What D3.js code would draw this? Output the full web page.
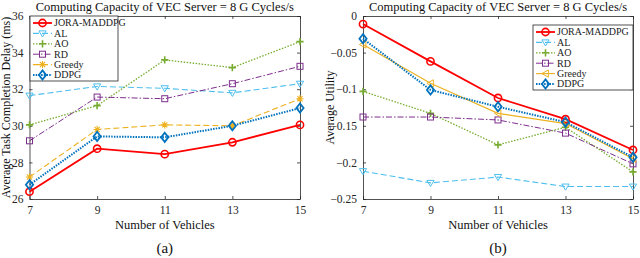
<!DOCTYPE html>
<html>
<head>
<meta charset="utf-8">
<script src="https://cdn.jsdelivr.net/npm/d3@7"></script>
<style>
  body { margin: 0; background: #fff; }
  svg, svg text { font-family: "Liberation Serif", "Times New Roman", Times, serif; }
</style>
</head>
<body>
<div id="chart"></div>
<script>
// Two panels: delay (a) and utility (b) vs number of vehicles

const vehicles = [7, 9, 11, 13, 15];
const seriesNames = ["JORA-MADDPG", "AL", "AO", "RD", "Greedy", "DDPG"];

// panel (a) - average task completion delay (ms)
const delayJora   = [26.4, 28.75, 28.45, 29.1, 30.05];
const delayAL     = [31.65, 32.15, 32.05, 31.8, 32.3];
const delayAO     = [30.05, 31.1, 33.6, 33.18, 34.6];
const delayRD     = [29.18, 31.57, 31.48, 32.3, 33.25];
const delayGreedy = [27.2, 29.8, 30.05, 30.0, 31.48];
const delayDDPG   = [26.78, 29.42, 29.37, 30.0, 30.97];

// panel (b) - average utility
const utilJora   = [-0.011, -0.062, -0.112, -0.141, -0.183];
const utilAL     = [-0.212, -0.228, -0.22, -0.233, -0.233];
const utilAO     = [-0.103, -0.133, -0.176, -0.152, -0.213];
const utilRD     = [-0.138, -0.138, -0.142, -0.16, -0.202];
const utilGreedy = [-0.039, -0.092, -0.133, -0.147, -0.195];
const utilDDPG   = [-0.031, -0.101, -0.124, -0.145, -0.193];

const delayTicks = [26, 28, 30, 32, 34, 36];
const utilTicks = [-0.25, -0.2, -0.15, -0.1, -0.05, 0];

const W = 640, H = 258;
const axisColor = "#262626";
const FONT = "Liberation Serif, Times New Roman, serif";

// look of each series (color, marker, dash, width)
const styleA = {
  "JORA-MADDPG": { c: "#FF0000", m: "circle", dash: null, w: 1.8 },
  "AL":          { c: "#4DBEEE", m: "tri-down", dash: "6,3", w: 1.1 },
  "AO":          { c: "#77AC30", m: "plus", dash: "1.5,1.5", w: 1.3 },
  "RD":          { c: "#7E2F8E", m: "square", dash: "6,2,1.5,2", w: 1 },
  "Greedy":      { c: "#EDB120", m: "star", dash: "6,3", w: 1.1 },
  "DDPG":        { c: "#0072BD", m: "diamond", dash: "1.5,1.2", w: 2 }
};
const styleB = Object.assign({}, styleA, {
  "Greedy": { c: "#EDB120", m: "tri-left", dash: null, w: 1.1 }
});

const svg = d3.select("#chart").append("svg").attr("width", W).attr("height", H)
  .attr("font-family", FONT);

function marker(sel, kind, color) {
  const r = 3.6;
  if (kind === "circle") {
    sel.append("circle").attr("r", r).attr("fill", "none").attr("stroke", color).attr("stroke-width", 1.6);
  } else if (kind === "tri-down") {
    sel.append("path").attr("d", `M${-r},${-r * 0.7}L${r},${-r * 0.7}L0,${r}Z`)
      .attr("fill", "none").attr("stroke", color).attr("stroke-width", 1);
  } else if (kind === "tri-left") {
    sel.append("path").attr("d", `M${r * 0.8},${-r}L${r * 0.8},${r}L${-r},0Z`)
      .attr("fill", "none").attr("stroke", color).attr("stroke-width", 1);
  } else if (kind === "plus") {
    sel.append("path").attr("d", `M${-r},0H${r}M0,${-r}V${r}`)
      .attr("fill", "none").attr("stroke", color).attr("stroke-width", 1.6);
  } else if (kind === "square") {
    sel.append("rect").attr("x", -3).attr("y", -3).attr("width", 6).attr("height", 6)
      .attr("fill", "none").attr("stroke", color).attr("stroke-width", 1);
  } else if (kind === "star") {
    const a = r * 0.72;
    sel.append("path").attr("d", `M${-r},0H${r}M0,${-r}V${r}M${-a},${-a}L${a},${a}M${-a},${a}L${a},${-a}`)
      .attr("fill", "none").attr("stroke", color).attr("stroke-width", 1.1);
  } else if (kind === "diamond") {
    sel.append("path").attr("d", `M0,${-r - 1}L${r},0L0,${r + 1}L${-r},0Z`)
      .attr("fill", "none").attr("stroke", color).attr("stroke-width", 1.8);
  }
}

function drawPanel(opt) {
  const { left, right, top, bottom, yDomain, yTicks, yFmt, data, styles, yLabel, yLabelX, tag, legend } = opt;
  const x = d3.scaleLinear().domain([7, 15]).range([left, right]);
  const y = d3.scaleLinear().domain(yDomain).range([bottom, top]);
  const g = svg.append("g");

  // inward ticks on all four sides
  const tl = 3;
  g.append("g").attr("transform", `translate(0,${bottom})`)
    .call(d3.axisBottom(x).tickValues(vehicles).tickSizeInner(-tl).tickSizeOuter(0).tickPadding(7));
  g.append("g").attr("transform", `translate(0,${top})`)
    .call(d3.axisTop(x).tickValues(vehicles).tickSizeInner(-tl).tickSizeOuter(0).tickFormat(""));
  g.append("g").attr("transform", `translate(${left},0)`)
    .call(d3.axisLeft(y).tickValues(yTicks).tickSizeInner(-tl).tickSizeOuter(0).tickPadding(6).tickFormat(yFmt));
  g.append("g").attr("transform", `translate(${right},0)`)
    .call(d3.axisRight(y).tickValues(yTicks).tickSizeInner(-tl).tickSizeOuter(0).tickFormat(""));
  g.selectAll("g").attr("font-family", FONT).attr("font-size", 11.5);
  g.selectAll(".domain").attr("stroke", axisColor).attr("stroke-width", 0.8);
  g.selectAll(".tick line").attr("stroke", axisColor).attr("stroke-width", 0.8);
  g.selectAll(".tick text").attr("fill", axisColor);

  // series
  const line = d3.line().x((d, i) => x(vehicles[i])).y(d => y(d));
  seriesNames.forEach((name, k) => {
    const s = styles[name];
    g.append("path").datum(data[k]).attr("d", line)
      .attr("fill", "none").attr("stroke", s.c).attr("stroke-width", s.w)
      .attr("stroke-dasharray", s.dash);
  });
  seriesNames.forEach((name, k) => {
    const s = styles[name];
    data[k].forEach((v, i) => {
      const mg = g.append("g").attr("transform", `translate(${x(vehicles[i])},${y(v)})`);
      marker(mg, s.m, s.c);
    });
  });

  // title and labels
  svg.append("text").attr("x", (left + right) / 2).attr("y", 11).attr("text-anchor", "middle")
    .attr("font-size", 12.5).attr("fill", "#111")
    .text("Computing Capacity of VEC Server = 8 G Cycles/s");
  svg.append("text").attr("x", (left + right) / 2).attr("y", 229).attr("text-anchor", "middle")
    .attr("font-size", 12.5).attr("fill", "#111").text("Number of Vehicles");
  svg.append("text").attr("transform", `translate(${yLabelX},${(top + bottom) / 2}) rotate(-90)`)
    .attr("text-anchor", "middle").attr("font-size", 12).attr("fill", "#111").text(yLabel);
  svg.append("text").attr("x", (left + right) / 2).attr("y", 253).attr("text-anchor", "middle")
    .attr("font-size", 15).attr("fill", "#111").text(tag);

  // legend
  const lg = svg.append("g").attr("transform", `translate(${legend.x},${legend.y})`);
  lg.append("rect").attr("width", legend.w).attr("height", 65)
    .attr("fill", "#fff").attr("stroke", axisColor).attr("stroke-width", 0.8);
  seriesNames.forEach((name, k) => {
    const s = styles[name];
    const ry = 7 + k * 10.4;
    lg.append("line").attr("x1", 3).attr("x2", 22).attr("y1", ry).attr("y2", ry)
      .attr("stroke", s.c).attr("stroke-width", s.w).attr("stroke-dasharray", s.dash);
    const mg = lg.append("g").attr("transform", `translate(12.5,${ry})`);
    marker(mg, s.m, s.c);
    lg.append("text").attr("x", 24).attr("y", ry + 3.3).attr("font-size", 10)
      .attr("fill", "#222").text(name);
  });
}

drawPanel({
  left: 29.5, right: 300, top: 16, bottom: 199,
  yDomain: [26, 36], yTicks: delayTicks, yFmt: d3.format("d"),
  data: [delayJora, delayAL, delayAO, delayRD, delayGreedy, delayDDPG],
  styles: styleA, yLabel: "Average Task Completion Delay (ms)", yLabelX: 9.5, tag: "(a)",
  legend: { x: 30, y: 16, w: 88 }
});

drawPanel({
  left: 363, right: 633, top: 16, bottom: 199,
  yDomain: [-0.25, 0], yTicks: utilTicks, yFmt: d => d === 0 ? "0" : d3.format("")(+d.toFixed(2)),
  data: [utilJora, utilAL, utilAO, utilRD, utilGreedy, utilDDPG],
  styles: styleB, yLabel: "Average Utility", yLabelX: 334, tag: "(b)",
  legend: { x: 533, y: 25, w: 100 }
});
</script>
</body>
</html>
